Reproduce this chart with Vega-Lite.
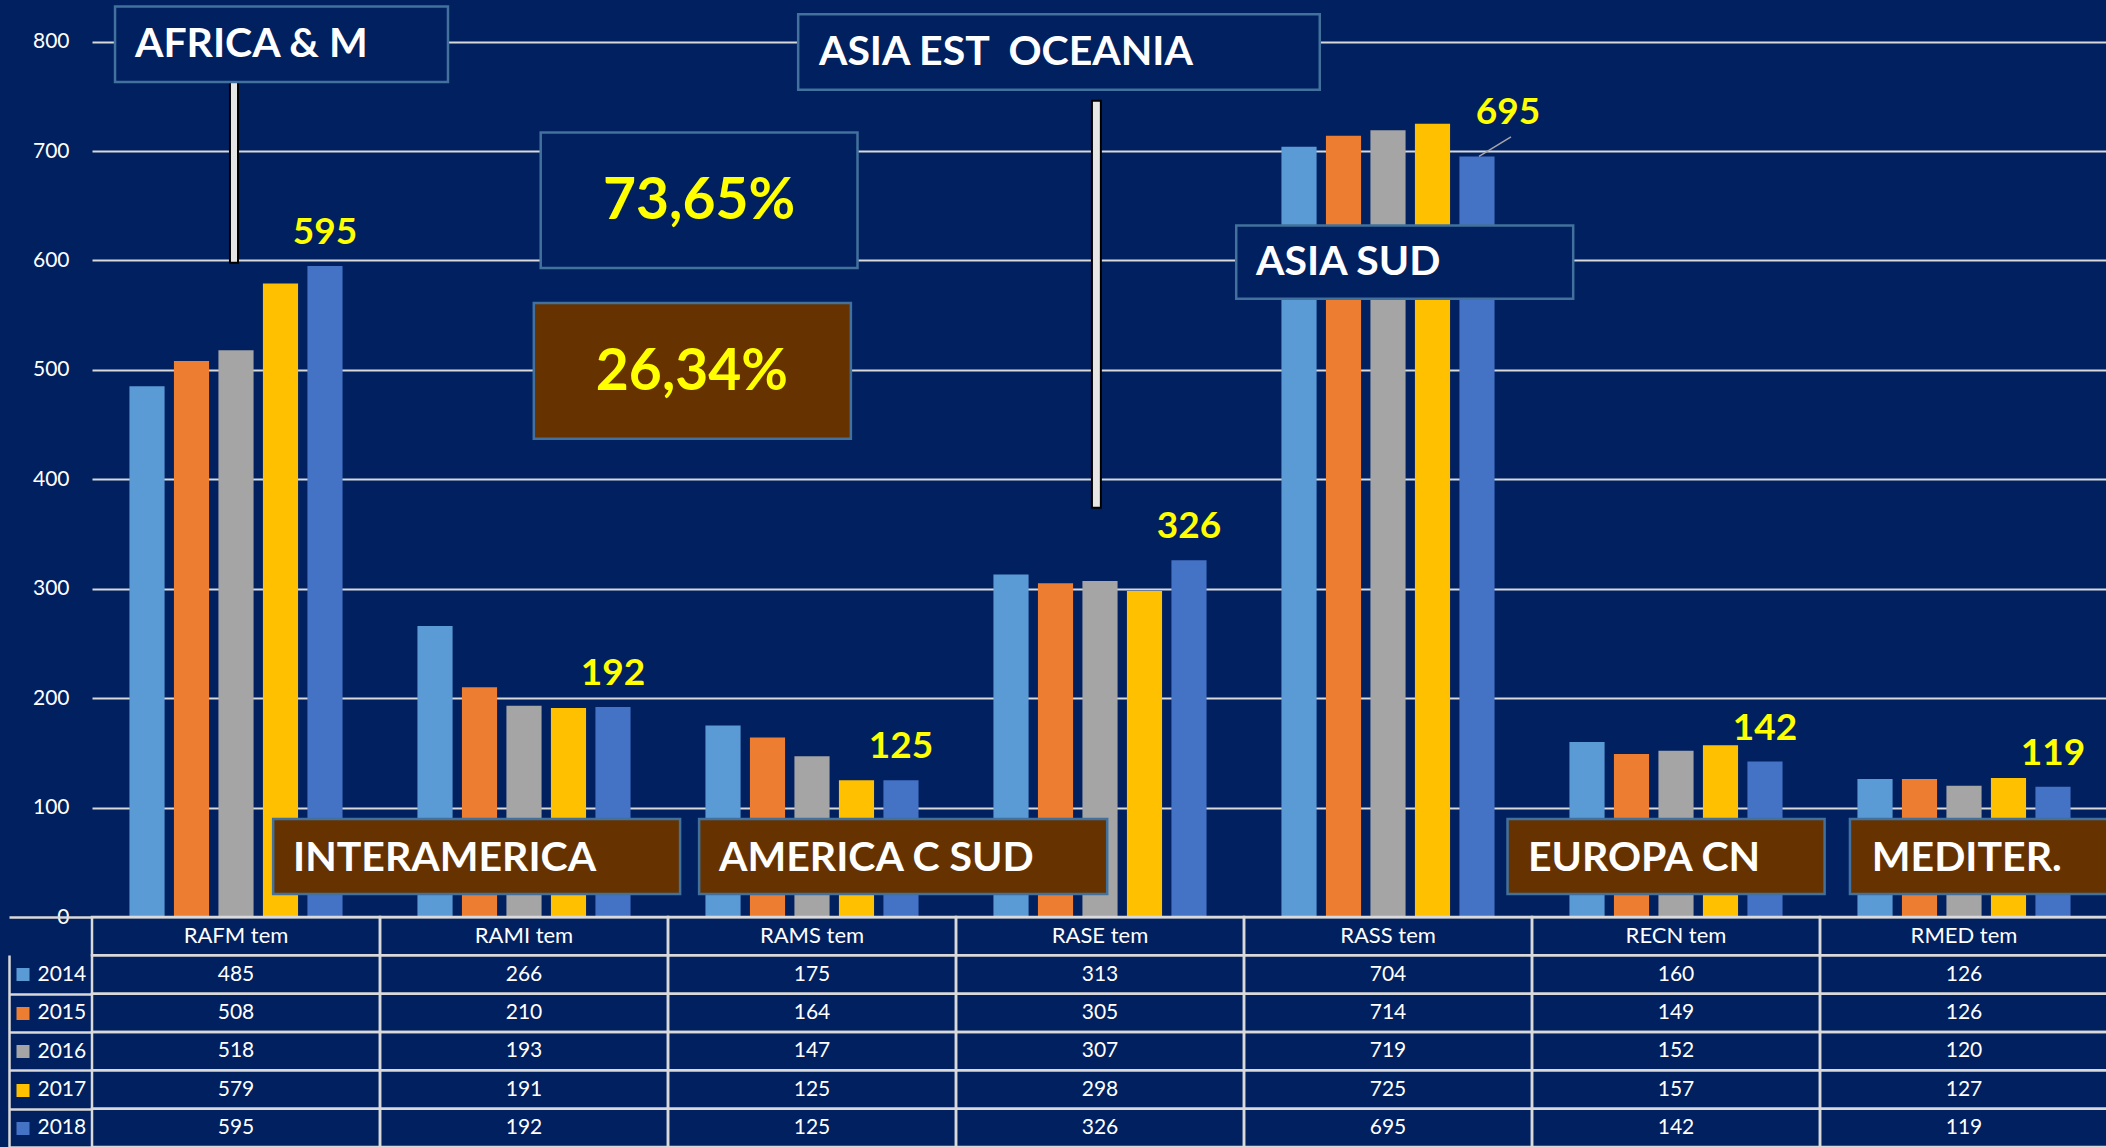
{
  "$schema": "https://vega.github.io/schema/vega-lite/v6.json",
  "background": "#002060",
  "padding": {"left": 7, "top": 0, "right": 0, "bottom": 0},
  "spacing": 0,
  "bounds": "flush",
  "config": {"view": {"stroke": null}, "font": "Lato"},
  "datasets": {
    "vals": [
      {"region": "RAFM tem", "year": "2014", "value": 485},
      {"region": "RAFM tem", "year": "2015", "value": 508},
      {"region": "RAFM tem", "year": "2016", "value": 518},
      {"region": "RAFM tem", "year": "2017", "value": 579},
      {"region": "RAFM tem", "year": "2018", "value": 595},
      {"region": "RAMI tem", "year": "2014", "value": 266},
      {"region": "RAMI tem", "year": "2015", "value": 210},
      {"region": "RAMI tem", "year": "2016", "value": 193},
      {"region": "RAMI tem", "year": "2017", "value": 191},
      {"region": "RAMI tem", "year": "2018", "value": 192},
      {"region": "RAMS tem", "year": "2014", "value": 175},
      {"region": "RAMS tem", "year": "2015", "value": 164},
      {"region": "RAMS tem", "year": "2016", "value": 147},
      {"region": "RAMS tem", "year": "2017", "value": 125},
      {"region": "RAMS tem", "year": "2018", "value": 125},
      {"region": "RASE tem", "year": "2014", "value": 313},
      {"region": "RASE tem", "year": "2015", "value": 305},
      {"region": "RASE tem", "year": "2016", "value": 307},
      {"region": "RASE tem", "year": "2017", "value": 298},
      {"region": "RASE tem", "year": "2018", "value": 326},
      {"region": "RASS tem", "year": "2014", "value": 704},
      {"region": "RASS tem", "year": "2015", "value": 714},
      {"region": "RASS tem", "year": "2016", "value": 719},
      {"region": "RASS tem", "year": "2017", "value": 725},
      {"region": "RASS tem", "year": "2018", "value": 695},
      {"region": "RECN tem", "year": "2014", "value": 160},
      {"region": "RECN tem", "year": "2015", "value": 149},
      {"region": "RECN tem", "year": "2016", "value": 152},
      {"region": "RECN tem", "year": "2017", "value": 157},
      {"region": "RECN tem", "year": "2018", "value": 142},
      {"region": "RMED tem", "year": "2014", "value": 126},
      {"region": "RMED tem", "year": "2015", "value": 126},
      {"region": "RMED tem", "year": "2016", "value": 120},
      {"region": "RMED tem", "year": "2017", "value": 127},
      {"region": "RMED tem", "year": "2018", "value": 119}
    ],
    "hdr": [
      {"region": "RAFM tem"}, {"region": "RAMI tem"}, {"region": "RAMS tem"}, {"region": "RASE tem"},
      {"region": "RASS tem"}, {"region": "RECN tem"}, {"region": "RMED tem"}
    ],
    "boxes": [
      {"x": 0.08, "x2": 1.236, "y": 763, "y2": 832, "grp": "A"},
      {"x": 2.452, "x2": 4.263, "y": 756, "y2": 825, "grp": "A"},
      {"x": 1.558, "x2": 2.658, "y": 593, "y2": 717, "grp": "A"},
      {"x": 1.534, "x2": 2.635, "y": 437, "y2": 561, "grp": "B"},
      {"x": 3.973, "x2": 5.143, "y": 565, "y2": 632, "grp": "A"},
      {"x": 0.629, "x2": 2.042, "y": 21, "y2": 89.6, "grp": "B"},
      {"x": 2.108, "x2": 3.525, "y": 21, "y2": 89.6, "grp": "B"},
      {"x": 4.915, "x2": 6.016, "y": 21, "y2": 89.6, "grp": "B"},
      {"x": 6.104, "x2": 7.0, "y": 21, "y2": 89.6, "grp": "B"}
    ],
    "links": [
      {"x": 0.479, "x2": 0.507, "y": 598, "y2": 763},
      {"x": 3.472, "x2": 3.503, "y": 374, "y2": 746}
    ],
    "leader": [
      {"x": 4.816, "y": 695, "x2": 4.927, "y2": 713}
    ],
    "texts": [
      {"label": "AFRICA & M", "x": 0.149, "y": 797, "kind": "region"},
      {"label": "ASIA EST\u00a0 OCEANIA", "x": 2.524, "y": 790, "kind": "region"},
      {"label": "ASIA SUD", "x": 4.042, "y": 598, "kind": "region"},
      {"label": "INTERAMERICA", "x": 0.698, "y": 53, "kind": "region"},
      {"label": "AMERICA C SUD", "x": 2.177, "y": 53, "kind": "region"},
      {"label": "EUROPA CN", "x": 4.986, "y": 53, "kind": "region"},
      {"label": "MEDITER.", "x": 6.18, "y": 53, "kind": "region"},
      {"label": "73,65%", "x": 2.108, "y": 653, "kind": "pct"},
      {"label": "26,34%", "x": 2.083, "y": 497, "kind": "pct"}
    ]
  },
  "resolve": {"scale": {"x": "independent", "y": "independent"}},
  "vconcat": [
    {
      "width": 2016,
      "height": 917,
      "resolve": {"scale": {"x": "independent"}},
      "layer": [
        {
          "data": {"name": "vals"},
          "mark": {"type": "bar"},
          "encoding": {
            "x": {"field": "region", "type": "nominal", "sort": null, "axis": null,
                  "scale": {"domain": ["RAFM tem", "RAMI tem", "RAMS tem", "RASE tem", "RASS tem", "RECN tem", "RMED tem"], "paddingInner": 0.26, "paddingOuter": 0.13}},
            "xOffset": {"field": "year", "type": "nominal",
                  "scale": {"domain": ["2014", "2015", "2016", "2017", "2018"], "paddingInner": 0.21, "paddingOuter": 0}},
            "y": {"field": "value", "type": "quantitative",
                  "scale": {"domain": [0, 838], "nice": false},
                  "axis": {"values": [0, 100, 200, 300, 400, 500, 600, 700, 800], "grid": true, "gridColor": "#d9d9d9", "gridWidth": 2,
                           "domain": false, "ticks": false, "labelColor": "#ffffff", "labelFont": "Lato", "labelFontSize": 21,
                           "labelPadding": 23, "title": null}},
            "color": {"field": "year", "type": "nominal", "legend": null,
                  "scale": {"domain": ["2014", "2015", "2016", "2017", "2018"], "range": ["#5B9BD5", "#ED7D31", "#A5A5A5", "#FFC000", "#4472C4"]}}
          }
        },
        {
          "data": {"name": "vals"},
          "transform": [{"filter": "datum.year == '2018' && datum.region != 'RASS tem'"}],
          "mark": {"type": "text", "color": "#ffff00", "font": "Lato", "fontWeight": "bold", "fontSize": 37, "baseline": "alphabetic", "dy": -22},
          "encoding": {
            "x": {"field": "region", "type": "nominal", "sort": null, "axis": null,
                  "scale": {"domain": ["RAFM tem", "RAMI tem", "RAMS tem", "RASE tem", "RASS tem", "RECN tem", "RMED tem"], "paddingInner": 0.26, "paddingOuter": 0.13}},
            "xOffset": {"field": "year", "type": "nominal",
                  "scale": {"domain": ["2014", "2015", "2016", "2017", "2018"], "paddingInner": 0.21, "paddingOuter": 0}},
            "y": {"field": "value", "type": "quantitative", "scale": {"domain": [0, 838], "nice": false},
                  "axis": {"values": [0, 100, 200, 300, 400, 500, 600, 700, 800], "grid": true, "gridColor": "#d9d9d9", "gridWidth": 2,
                           "domain": false, "ticks": false, "labelColor": "#ffffff", "labelFont": "Lato", "labelFontSize": 21,
                           "labelPadding": 23, "title": null}},
            "text": {"field": "value", "type": "quantitative"}
          }
        },
        {
          "data": {"name": "vals"},
          "transform": [{"filter": "datum.year == '2018' && datum.region == 'RASS tem'"}],
          "mark": {"type": "text", "color": "#ffff00", "font": "Lato", "fontWeight": "bold", "fontSize": 37, "baseline": "alphabetic", "dy": -32, "dx": 31},
          "encoding": {
            "x": {"field": "region", "type": "nominal", "sort": null, "axis": null,
                  "scale": {"domain": ["RAFM tem", "RAMI tem", "RAMS tem", "RASE tem", "RASS tem", "RECN tem", "RMED tem"], "paddingInner": 0.26, "paddingOuter": 0.13}},
            "xOffset": {"field": "year", "type": "nominal",
                  "scale": {"domain": ["2014", "2015", "2016", "2017", "2018"], "paddingInner": 0.21, "paddingOuter": 0}},
            "y": {"field": "value", "type": "quantitative", "scale": {"domain": [0, 838], "nice": false},
                  "axis": {"values": [0, 100, 200, 300, 400, 500, 600, 700, 800], "grid": true, "gridColor": "#d9d9d9", "gridWidth": 2,
                           "domain": false, "ticks": false, "labelColor": "#ffffff", "labelFont": "Lato", "labelFontSize": 21,
                           "labelPadding": 23, "title": null}},
            "text": {"field": "value", "type": "quantitative"}
          }
        },
        {
          "data": {"name": "leader"},
          "mark": {"type": "rule", "color": "#a6a6a6", "strokeWidth": 1.5},
          "encoding": {
            "x": {"field": "x", "type": "quantitative", "axis": null, "scale": {"domain": [0, 7], "nice": false, "zero": false}},
            "x2": {"field": "x2"},
            "y": {"field": "y", "type": "quantitative", "scale": {"domain": [0, 838], "nice": false},
                  "axis": {"values": [0, 100, 200, 300, 400, 500, 600, 700, 800], "grid": true, "gridColor": "#d9d9d9", "gridWidth": 2,
                           "domain": false, "ticks": false, "labelColor": "#ffffff", "labelFont": "Lato", "labelFontSize": 21,
                           "labelPadding": 23, "title": null}},
            "y2": {"field": "y2"}
          }
        },
        {
          "data": {"name": "links"},
          "mark": {"type": "rect", "fill": "#e6e6e6", "stroke": "#000000", "strokeWidth": 2},
          "encoding": {
            "x": {"field": "x", "type": "quantitative", "axis": null, "scale": {"domain": [0, 7], "nice": false, "zero": false}},
            "x2": {"field": "x2"},
            "y": {"field": "y", "type": "quantitative", "scale": {"domain": [0, 838], "nice": false},
                  "axis": {"values": [0, 100, 200, 300, 400, 500, 600, 700, 800], "grid": true, "gridColor": "#d9d9d9", "gridWidth": 2,
                           "domain": false, "ticks": false, "labelColor": "#ffffff", "labelFont": "Lato", "labelFontSize": 21,
                           "labelPadding": 23, "title": null}},
            "y2": {"field": "y2"}
          }
        },
        {
          "data": {"name": "boxes"},
          "mark": {"type": "rect", "stroke": "#41719C", "strokeWidth": 2.5},
          "encoding": {
            "x": {"field": "x", "type": "quantitative", "axis": null, "scale": {"domain": [0, 7], "nice": false, "zero": false}},
            "x2": {"field": "x2"},
            "y": {"field": "y", "type": "quantitative", "scale": {"domain": [0, 838], "nice": false},
                  "axis": {"values": [0, 100, 200, 300, 400, 500, 600, 700, 800], "grid": true, "gridColor": "#d9d9d9", "gridWidth": 2,
                           "domain": false, "ticks": false, "labelColor": "#ffffff", "labelFont": "Lato", "labelFontSize": 21,
                           "labelPadding": 23, "title": null}},
            "y2": {"field": "y2"},
            "fill": {"field": "grp", "type": "nominal", "legend": null, "scale": {"domain": ["A", "B"], "range": ["#002060", "#663300"]}}
          }
        },
        {
          "data": {"name": "texts"},
          "transform": [{"filter": "datum.kind == 'region'"}],
          "mark": {"type": "text", "align": "left", "baseline": "middle", "color": "#ffffff", "font": "Lato", "fontWeight": "bold", "fontSize": 41},
          "encoding": {
            "x": {"field": "x", "type": "quantitative", "axis": null, "scale": {"domain": [0, 7], "nice": false, "zero": false}},
            "y": {"field": "y", "type": "quantitative", "scale": {"domain": [0, 838], "nice": false},
                  "axis": {"values": [0, 100, 200, 300, 400, 500, 600, 700, 800], "grid": true, "gridColor": "#d9d9d9", "gridWidth": 2,
                           "domain": false, "ticks": false, "labelColor": "#ffffff", "labelFont": "Lato", "labelFontSize": 21,
                           "labelPadding": 23, "title": null}},
            "text": {"field": "label", "type": "nominal"}
          }
        },
        {
          "data": {"name": "texts"},
          "transform": [{"filter": "datum.kind == 'pct'"}],
          "mark": {"type": "text", "align": "center", "baseline": "middle", "color": "#ffff00", "font": "Lato", "fontWeight": "bold", "fontSize": 57},
          "encoding": {
            "x": {"field": "x", "type": "quantitative", "axis": null, "scale": {"domain": [0, 7], "nice": false, "zero": false}},
            "y": {"field": "y", "type": "quantitative", "scale": {"domain": [0, 838], "nice": false},
                  "axis": {"values": [0, 100, 200, 300, 400, 500, 600, 700, 800], "grid": true, "gridColor": "#d9d9d9", "gridWidth": 2,
                           "domain": false, "ticks": false, "labelColor": "#ffffff", "labelFont": "Lato", "labelFontSize": 21,
                           "labelPadding": 23, "title": null}},
            "text": {"field": "label", "type": "nominal"}
          }
        }
      ]
    },
    {
      "width": 2016,
      "height": 230,
      "resolve": {"scale": {"y": "independent"}, "axis": {"y": "independent"}},
      "layer": [
        {
          "data": {"name": "vals"},
          "mark": {"type": "rect", "fillOpacity": 0, "fill": "#002060", "stroke": "#d9d9d9", "strokeWidth": 2.5},
          "encoding": {
            "x": {"field": "region", "type": "nominal", "sort": null, "axis": null,
                  "scale": {"domain": ["RAFM tem", "RAMI tem", "RAMS tem", "RASE tem", "RASS tem", "RECN tem", "RMED tem"], "paddingInner": 0, "paddingOuter": 0}},
            "y": {"field": "year", "type": "nominal",
                  "scale": {"domain": ["hdr", "2014", "2015", "2016", "2017", "2018"], "paddingInner": 0, "paddingOuter": 0},
                  "axis": {"orient": "left", "offset": 83, "domain": true, "domainColor": "#d9d9d9", "domainWidth": 2.5,
                           "domainDash": [0, 38, 200, 0],
                           "ticks": true, "tickBand": "extent", "tickSize": -83, "tickWidth": 2.5,
                           "tickColor": {"condition": {"test": "datum.value == 'hdr'", "value": "transparent"}, "value": "#d9d9d9"},
                           "labels": false, "title": null}}
          }
        },
        {
          "data": {"name": "vals"},
          "mark": {"type": "text", "color": "#ffffff", "font": "Lato", "fontSize": 21, "baseline": "middle"},
          "encoding": {
            "x": {"field": "region", "type": "nominal", "sort": null, "axis": null,
                  "scale": {"domain": ["RAFM tem", "RAMI tem", "RAMS tem", "RASE tem", "RASS tem", "RECN tem", "RMED tem"], "paddingInner": 0, "paddingOuter": 0}},
            "y": {"field": "year", "type": "nominal",
                  "scale": {"domain": ["hdr", "2014", "2015", "2016", "2017", "2018"], "paddingInner": 0, "paddingOuter": 0},
                  "axis": {"orient": "left", "offset": 63, "domain": false,
                           "ticks": true, "tickSize": 13, "tickWidth": 13, "tickCap": "butt",
                           "tickColor": {"condition": [
                              {"test": "datum.value == '2014'", "value": "#5B9BD5"},
                              {"test": "datum.value == '2015'", "value": "#ED7D31"},
                              {"test": "datum.value == '2016'", "value": "#A5A5A5"},
                              {"test": "datum.value == '2017'", "value": "#FFC000"},
                              {"test": "datum.value == '2018'", "value": "#4472C4"}], "value": "transparent"},
                           "labelAlign": "left", "labelPadding": -21, "labelColor": "#ffffff", "labelFont": "Lato", "labelFontSize": 21,
                           "labelExpr": "datum.value == 'hdr' ? '' : datum.label", "title": null}},
            "text": {"field": "value", "type": "quantitative"}
          }
        },
        {
          "data": {"name": "hdr"},
          "mark": {"type": "rect", "fillOpacity": 0, "fill": "#002060", "stroke": "#d9d9d9", "strokeWidth": 2.5},
          "encoding": {
            "x": {"field": "region", "type": "nominal", "sort": null, "axis": null,
                  "scale": {"domain": ["RAFM tem", "RAMI tem", "RAMS tem", "RASE tem", "RASS tem", "RECN tem", "RMED tem"], "paddingInner": 0, "paddingOuter": 0}},
            "y": {"datum": "hdr", "type": "nominal", "axis": null,
                  "scale": {"domain": ["hdr", "2014", "2015", "2016", "2017", "2018"], "paddingInner": 0, "paddingOuter": 0}}
          }
        },
        {
          "data": {"name": "hdr"},
          "mark": {"type": "text", "color": "#ffffff", "font": "Lato", "fontSize": 22, "baseline": "middle"},
          "encoding": {
            "x": {"field": "region", "type": "nominal", "sort": null, "axis": null,
                  "scale": {"domain": ["RAFM tem", "RAMI tem", "RAMS tem", "RASE tem", "RASS tem", "RECN tem", "RMED tem"], "paddingInner": 0, "paddingOuter": 0}},
            "y": {"datum": "hdr", "type": "nominal", "axis": null,
                  "scale": {"domain": ["hdr", "2014", "2015", "2016", "2017", "2018"], "paddingInner": 0, "paddingOuter": 0}},
            "text": {"field": "region", "type": "nominal"}
          }
        }
      ]
    }
  ]
}
